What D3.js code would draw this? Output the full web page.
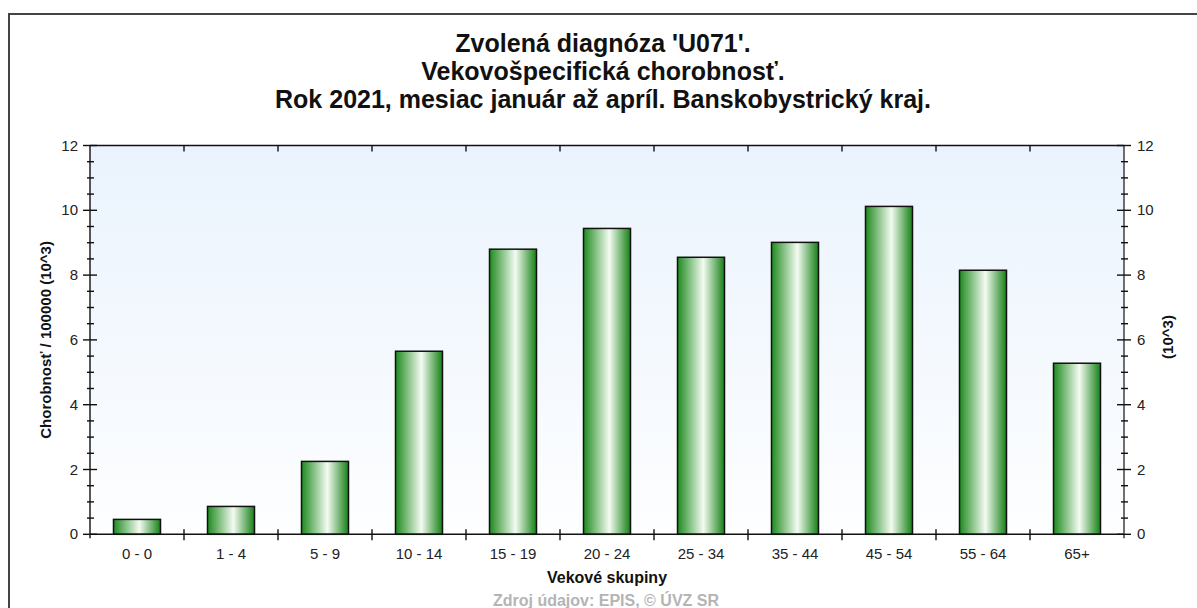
<!DOCTYPE html>
<html>
<head>
<meta charset="utf-8">
<script src="https://cdn.jsdelivr.net/npm/d3@7"></script>
<style>
  body { margin: 0; background: #fff; }
  text { font-family: "Liberation Sans", Arial, sans-serif; }
</style>
</head>
<body>
<div id="chart"></div>
<script>
(function () {
    var categories = ["0 - 0", "1 - 4", "5 - 9", "10 - 14", "15 - 19", "20 - 24", "25 - 34", "35 - 44", "45 - 54", "55 - 64", "65+"];
    var values = [0.46, 0.86, 2.25, 5.65, 8.80, 9.44, 8.55, 9.01, 10.12, 8.15, 5.28];
    var yTicks = [0, 2, 4, 6, 8, 10, 12];
    var titleLines = ["Zvolená diagnóza 'U071'.", "Vekovošpecifická chorobnosť.", "Rok 2021, mesiac január až apríl. Banskobystrický kraj."];

    var width = 1197, height = 608;
    var left = 90, right = 1124, top = 145.5, bottom = 534.3;

    var svg = d3.select("#chart").append("svg")
        .attr("width", width)
        .attr("height", height);

    var defs = svg.append("defs");
    var bg = defs.append("linearGradient").attr("id", "bg")
        .attr("x1", 0).attr("y1", 0).attr("x2", 0).attr("y2", 1);
    bg.append("stop").attr("offset", "0%").attr("stop-color", "#eaf3fd");
    bg.append("stop").attr("offset", "100%").attr("stop-color", "#fdfeff");

    var bar = defs.append("linearGradient").attr("id", "bar")
        .attr("x1", 0).attr("y1", 0).attr("x2", 1).attr("y2", 0);
    bar.append("stop").attr("offset", "0%").attr("stop-color", "#1e8a1e");
    bar.append("stop").attr("offset", "55%").attr("stop-color", "#f4fbf2");
    bar.append("stop").attr("offset", "100%").attr("stop-color", "#158015");

    // outer frame
    svg.append("rect")
        .attr("x", 9).attr("y", 14)
        .attr("width", 1200).attr("height", 620)
        .attr("fill", "none")
        .attr("stroke", "#444")
        .attr("stroke-width", 2);

    // title
    svg.append("g").selectAll("text")
        .data(titleLines)
        .join("text")
        .attr("x", 603)
        .attr("y", function (d, i) { return 52 + i * 28; })
        .attr("text-anchor", "middle")
        .attr("font-size", 25)
        .attr("font-weight", "bold")
        .attr("fill", "#111")
        .text(function (d) { return d; });

    var x = d3.scaleBand().domain(categories).range([left, right]).paddingInner(0.5).paddingOuter(0.25);
    var y = d3.scaleLinear().domain([0, 12]).range([bottom, top]);

    svg.append("rect")
        .attr("x", left).attr("y", top)
        .attr("width", right - left).attr("height", bottom - top)
        .attr("fill", "url(#bg)");

    // bars
    svg.append("g").selectAll("rect")
        .data(values)
        .join("rect")
        .attr("x", function (d, i) { return x(categories[i]); })
        .attr("y", function (d) { return y(d); })
        .attr("width", x.bandwidth())
        .attr("height", function (d) { return y(0) - y(d); })
        .attr("fill", "url(#bar)")
        .attr("stroke", "#111")
        .attr("stroke-width", 1.5);

    var minor = d3.range(0, 12.01, 0.5);
    var band = (right - left) / categories.length;
    var bounds = d3.range(1, categories.length).map(function (i) { return left + i * band; });

    var axes = svg.append("g").attr("stroke", "#111").attr("stroke-width", 1.4);

    // frame lines: bottom, top, left, right
    axes.append("line").attr("x1", left).attr("x2", right).attr("y1", bottom).attr("y2", bottom);
    axes.append("line").attr("x1", left).attr("x2", right).attr("y1", top).attr("y2", top);
    axes.append("line").attr("x1", left).attr("x2", left).attr("y1", top).attr("y2", bottom + 4);
    axes.append("line").attr("x1", right).attr("x2", right).attr("y1", top).attr("y2", bottom + 4)
        .attr("stroke", "#333");

    // y ticks both sides
    [left, right].forEach(function (ax) {
        axes.append("g").selectAll("line")
            .data(minor)
            .join("line")
            .attr("x1", function (d) { return ax - (d % 2 === 0 ? 7 : 3); })
            .attr("x2", function (d) { return ax + (d % 2 === 0 ? 7 : 4); })
            .attr("y1", function (d) { return y(d); })
            .attr("y2", function (d) { return y(d); });
    });

    // x ticks at band bounds, bottom and top
    axes.append("g").selectAll("line")
        .data(bounds)
        .join("line")
        .attr("x1", function (d) { return d; }).attr("x2", function (d) { return d; })
        .attr("y1", bottom - 5).attr("y2", bottom + 6);
    axes.append("g").selectAll("line")
        .data(bounds)
        .join("line")
        .attr("x1", function (d) { return d; }).attr("x2", function (d) { return d; })
        .attr("y1", top).attr("y2", top + 6);

    // y tick labels
    svg.append("g").selectAll("text")
        .data(yTicks)
        .join("text")
        .attr("x", left - 12)
        .attr("y", function (d) { return y(d) + 5; })
        .attr("text-anchor", "end")
        .attr("font-size", 15)
        .attr("fill", "#222")
        .text(function (d) { return d; });
    svg.append("g").selectAll("text")
        .data(yTicks)
        .join("text")
        .attr("x", right + 13)
        .attr("y", function (d) { return y(d) + 5; })
        .attr("font-size", 15)
        .attr("fill", "#222")
        .text(function (d) { return d; });

    // x tick labels
    svg.append("g").selectAll("text")
        .data(categories)
        .join("text")
        .attr("x", function (d) { return x(d) + x.bandwidth() / 2; })
        .attr("y", 559)
        .attr("text-anchor", "middle")
        .attr("font-size", 15)
        .attr("fill", "#222")
        .text(function (d) { return d; });

    // axis titles
    svg.append("text")
        .attr("transform", "translate(51," + ((top + bottom) / 2) + ") rotate(-90)")
        .attr("text-anchor", "middle")
        .attr("font-size", 15)
        .attr("font-weight", "bold")
        .attr("fill", "#111")
        .text("Chorobnosť / 100000 (10^3)");
    svg.append("text")
        .attr("transform", "translate(1173,337) rotate(-90)")
        .attr("text-anchor", "middle")
        .attr("font-size", 15)
        .attr("font-weight", "bold")
        .attr("fill", "#111")
        .text("(10^3)");
    svg.append("text")
        .attr("x", 607).attr("y", 583)
        .attr("text-anchor", "middle")
        .attr("font-size", 16)
        .attr("font-weight", "bold")
        .attr("fill", "#111")
        .text("Vekové skupiny");
    svg.append("text")
        .attr("x", 606).attr("y", 606)
        .attr("text-anchor", "middle")
        .attr("font-size", 16)
        .attr("font-weight", "bold")
        .attr("fill", "#b4b4b4")
        .text("Zdroj údajov: EPIS, © ÚVZ SR");
})();
</script>
</body>
</html>
